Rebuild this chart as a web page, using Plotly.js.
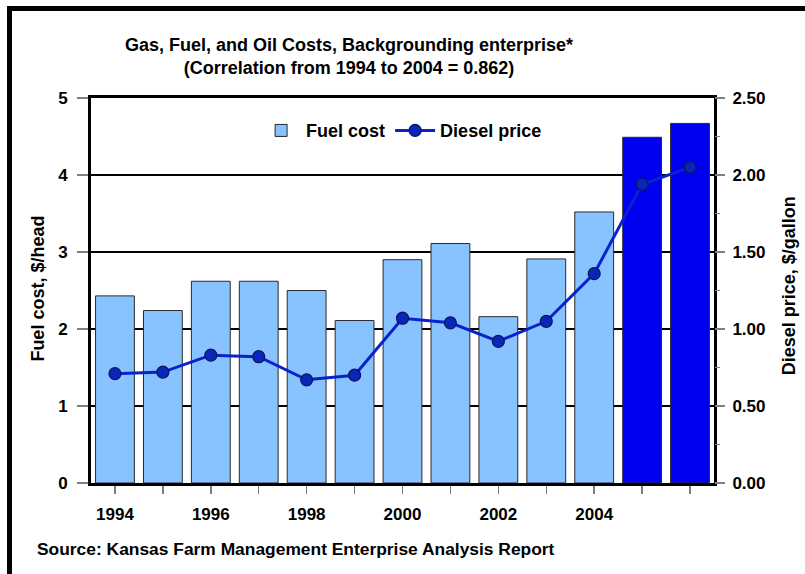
<!DOCTYPE html>
<html>
<head>
<meta charset="utf-8">
<script src="https://cdn.plot.ly/plotly-3.0.1.min.js"></script>
<style>
  html, body { margin: 0; padding: 0; background: #fff; overflow: hidden; }
  #wrap { position: relative; width: 805px; height: 574px; }
  #chart { width: 805px; height: 574px; }
  #frame { position: absolute; left: 7px; top: 6px; width: 820px; height: 600px;
           border-top: 5px solid #000; border-left: 5px solid #000; pointer-events: none; }
</style>
</head>
<body>
<div id="wrap">
  <div id="chart"></div>
  <div id="frame"></div>
</div>
<script>
// ---- data ----
const years = [1994, 1995, 1996, 1997, 1998, 1999, 2000, 2001, 2002, 2003, 2004, 2005, 2006];
const fuelCost = [2.43, 2.24, 2.62, 2.62, 2.50, 2.11, 2.90, 3.11, 2.16, 2.91, 3.52, 4.49, 4.67];
const dieselPrice = [0.71, 0.72, 0.83, 0.82, 0.67, 0.70, 1.07, 1.04, 0.92, 1.05, 1.36, 1.94, 2.05];
const xTickLabels = ['1994', '', '1996', '', '1998', '', '2000', '', '2002', '', '2004', '', ''];
const leftTicks = [0, 1, 2, 3, 4, 5];
const rightTicks = [0, 0.5, 1.0, 1.5, 2.0, 2.5];

// ---- styles ----
const FONT = 'Liberation Sans, Arial, Helvetica, sans-serif';
const lightBlue = '#88C2FF';
const darkBlue = '#0000F0';
const barColors = years.map(y => (y <= 2004 ? lightBlue : darkBlue));

const traces = [
  {
    type: 'bar',
    name: 'Fuel cost',
    x: years,
    y: fuelCost,
    width: 0.81,
    marker: { color: barColors, line: { color: '#2a2a2a', width: 1 } },
    yaxis: 'y'
  },
  {
    type: 'scatter',
    mode: 'lines+markers',
    name: 'Diesel price',
    x: years,
    y: dieselPrice,
    yaxis: 'y2',
    line: { color: '#0A22CC', width: 3 },
    marker: { size: 12, color: '#0A26B8', line: { color: '#0A1560', width: 1.2 } }
  }
];

const layout = {
  width: 805,
  height: 574,
  margin: { l: 91, r: 91, t: 98, b: 91, pad: 0 },
  paper_bgcolor: '#ffffff',
  plot_bgcolor: '#ffffff',
  font: { family: FONT, size: 17, color: '#000', weight: 700 },
  title: {
    text: 'Gas, Fuel, and Oil Costs, Backgrounding enterprise*<br>(Correlation from 1994 to 2004 = 0.862)',
    font: { family: FONT, size: 18, color: '#000', weight: 700 },
    xref: 'container', x: 0.4335, xanchor: 'center',
    yref: 'container', y: 0.911, yanchor: 'top'
  },
  showlegend: true,
  legend: {
    orientation: 'h',
    x: 0.265, xanchor: 'left',
    y: 0.915, yanchor: 'middle',
    bgcolor: 'rgba(0,0,0,0)',
    font: { family: FONT, size: 18, color: '#000', weight: 700 },
    itemwidth: 40
  },
  xaxis: {
    range: [1993.5, 2006.5],
    tickmode: 'array',
    tickvals: years,
    ticktext: xTickLabels,
    ticks: 'outside', ticklen: 8, tickwidth: 1.5, tickcolor: '#808080',
    ticklabelstandoff: 6,
    tickfont: { family: FONT, size: 17, color: '#000', weight: 700 },
    showgrid: false, zeroline: false,
    showline: true, linecolor: '#000', linewidth: 3, mirror: true
  },
  yaxis: {
    range: [0, 5],
    tickmode: 'array', tickvals: leftTicks,
    ticks: 'outside', ticklen: 11, tickwidth: 1.5, tickcolor: '#808080',
    ticklabelstandoff: 6,
    tickfont: { family: FONT, size: 17, color: '#000', weight: 700 },
    showgrid: true, gridcolor: '#000', gridwidth: 1.2,
    zeroline: false,
    showline: true, linecolor: '#000', linewidth: 3, mirror: true
  },
  yaxis2: {
    range: [0, 2.5],
    overlaying: 'y', side: 'right',
    tickmode: 'array', tickvals: rightTicks, tickformat: '.2f',
    ticks: 'outside', ticklen: 10, tickwidth: 1.5, tickcolor: '#808080',
    ticklabelstandoff: 4,
    tickfont: { family: FONT, size: 17, color: '#000', weight: 700 },
    minor: { dtick: 0.25, ticks: 'outside', ticklen: 5, tickwidth: 1.5, tickcolor: '#808080', showgrid: false },
    showgrid: false, zeroline: false, showline: false
  },
  annotations: [
    {
      text: 'Fuel cost, $/head', textangle: -90,
      xref: 'paper', yref: 'paper', x: -0.085, y: 0.505,
      xanchor: 'center', yanchor: 'middle', showarrow: false,
      font: { family: FONT, size: 18, color: '#000', weight: 700 }
    },
    {
      text: 'Diesel price, $/gallon', textangle: -90,
      xref: 'paper', yref: 'paper', x: 1.1195, y: 0.512,
      xanchor: 'center', yanchor: 'middle', showarrow: false,
      font: { family: FONT, size: 18, color: '#000', weight: 700 }
    },
    {
      text: 'Source: Kansas Farm Management Enterprise Analysis Report',
      xref: 'paper', yref: 'paper', x: (35 - 91) / 623, y: -(549 - 483) / 385,
      xanchor: 'left', yanchor: 'middle', showarrow: false,
      font: { family: FONT, size: 17.4, color: '#000', weight: 700 }
    }
  ]
};

Plotly.newPlot('chart', traces, layout, { displayModeBar: false, staticPlot: true });
</script>
</body>
</html>
